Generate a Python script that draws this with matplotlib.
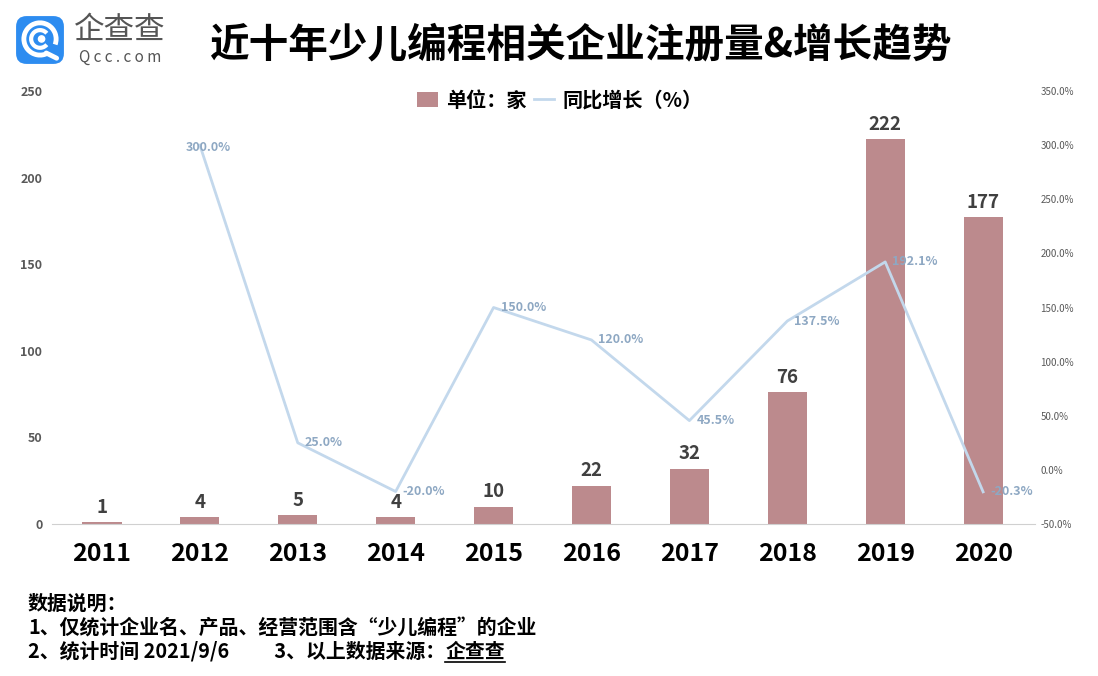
import matplotlib
matplotlib.use('Agg')
import matplotlib.pyplot as plt
from matplotlib.patches import FancyBboxPatch, Arc, Circle, Patch
from matplotlib.lines import Line2D

plt.rcParams['font.family'] = ['Noto Sans CJK SC', 'DejaVu Sans']

years = ['2011', '2012', '2013', '2014', '2015', '2016', '2017', '2018', '2019', '2020']
counts = [1, 4, 5, 4, 10, 22, 32, 76, 222, 177]
growth = [None, 300.0, 25.0, -20.0, 150.0, 120.0, 45.5, 137.5, 192.1, -20.3]

bar_color = '#BC8A8D'
line_color = '#C3D8EC'
label_blue = '#8EA8C3'
tick_grey = '#595959'

W, H = 1098, 676
fig = plt.figure(figsize=(W / 100, H / 100), dpi=100)
ax = fig.add_axes([52 / W, 152 / H, 983 / W, 433 / H])
ax2 = ax.twinx()

x = list(range(len(years)))
ax.bar(x, counts, width=0.4, color=bar_color, zorder=2)
for xi, v in zip(x, counts):
    ax.annotate(str(v), (xi, v), xytext=(0, 4), textcoords='offset points',
                ha='center', va='bottom', fontsize=13.5, fontweight='bold', color='#404040')

ax.set_xlim(-0.51, 9.53)
ax.set_ylim(0, 250)
ax.set_yticks([0, 50, 100, 150, 200, 250])
ax.set_xticks(x)
ax.set_xticklabels(years, fontsize=18, fontweight='bold', color='black')
ax.tick_params(axis='x', length=0, pad=13)
ax.tick_params(axis='y', length=0, labelsize=9, labelcolor=tick_grey, pad=7)
for lab in ax.get_yticklabels():
    lab.set_fontweight('bold')
for s in ['top', 'right', 'left']:
    ax.spines[s].set_visible(False)
ax.spines['bottom'].set_color('#D0D0D0')

gx = [xi for xi, g in zip(x, growth) if g is not None]
gy = [g for g in growth if g is not None]
ax2.plot(gx, gy, color=line_color, linewidth=2, zorder=3)
for i, (xi, g) in enumerate(zip(gx, gy)):
    if i == 0:
        ax2.annotate('%.1f%%' % g, (xi, g), xytext=(6, -2), textcoords='offset points',
                     ha='center', va='center', fontsize=9, fontweight='bold', color=label_blue)
    else:
        ax2.annotate('%.1f%%' % g, (xi, g), xytext=(5, 0), textcoords='offset points',
                     ha='left', va='center', fontsize=9, fontweight='bold', color=label_blue)
ax2.set_ylim(-50, 350)
ax2.set_yticks(range(-50, 351, 50))
ax2.set_yticklabels(['%.1f%%' % t for t in range(-50, 351, 50)])
ax2.tick_params(axis='y', length=0, labelsize=7, labelcolor=tick_grey, pad=4)
for s in ['top', 'right', 'left', 'bottom']:
    ax2.spines[s].set_visible(False)

# legend
handles = [Patch(facecolor=bar_color, edgecolor='none'),
           Line2D([0], [0], color=line_color, linewidth=2)]
fig.legend(handles, ['单位：家', '同比增长（%）'], loc='center', bbox_to_anchor=(560 / W, 1 - 100 / H),
           ncol=2, frameon=False, handlelength=1.0, handletextpad=0.4,
           columnspacing=0.4, prop={'weight': 'bold', 'size': 14.5})

# title
fig.text(580 / W, 1 - 45 / H, '近十年少儿编程相关企业注册量&增长趋势', ha='center', va='center',
         fontsize=28.5, fontweight='bold', color='black')

# logo
lax = fig.add_axes([14 / W, 1 - 66 / H, 52 / W, 52 / H])
lax.set_xlim(0, 1)
lax.set_ylim(0, 1)
lax.axis('off')
lax.add_patch(FancyBboxPatch((0.04, 0.04), 0.92, 0.92, boxstyle='round,pad=0,rounding_size=0.2',
                             facecolor='#2D8CF0', edgecolor='none'))
lax.add_patch(Arc((0.5, 0.52), 0.62, 0.62, theta1=-20, theta2=300, color='white', linewidth=3.5))
lax.add_patch(Arc((0.5, 0.52), 0.34, 0.34, theta1=40, theta2=320, color='white', linewidth=3))
lax.add_patch(Circle((0.53, 0.52), 0.06, color='white'))
lax.plot([0.62, 0.82], [0.25, 0.15], color='white', linewidth=3.5, solid_capstyle='round')
fig.text(120 / W, 1 - 30 / H, '企查查', ha='center', va='center', fontsize=22, color='#555555')
fig.text(120 / W, 1 - 57 / H, 'Q c c . c o m', ha='center', va='center', fontsize=11, color='#555555')

# notes
notes = ['数据说明：', '1、仅统计企业名、产品、经营范围含“少儿编程”的企业',
         '2、统计时间 2021/9/6          3、以上数据来源：']
texts = []
for i, t in enumerate(notes):
    texts.append(fig.text(28 / W, 1 - (603 + 24 * i) / H, t, ha='left', va='center',
                          fontsize=14.3, fontweight='bold', color='black'))
r = fig.canvas.get_renderer()
bb = texts[-1].get_window_extent(r)
src = fig.text(bb.x1 / W, 1 - (603 + 48) / H, '企查查', ha='left', va='center',
               fontsize=14.3, fontweight='bold', color='black')
sb = src.get_window_extent(r)
fig.add_artist(Line2D([sb.x0 / W, sb.x1 / W], [1 - 662 / H, 1 - 662 / H], color='black', linewidth=1.2))

fig.savefig('out.png', dpi=100)
